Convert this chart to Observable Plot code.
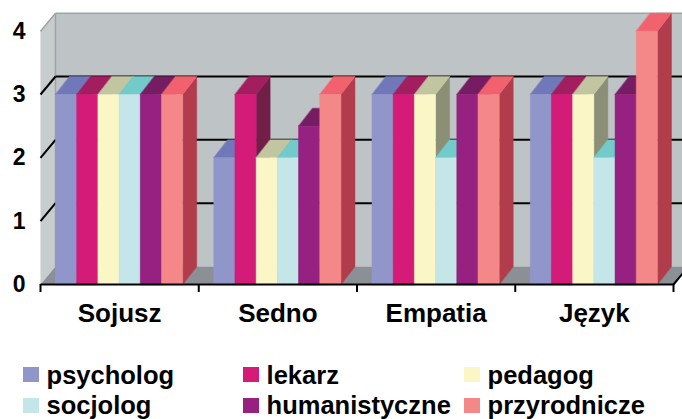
<!DOCTYPE html>
<html><head><meta charset="utf-8">
<script src="https://cdn.jsdelivr.net/npm/d3@7"></script>
<script src="https://cdn.jsdelivr.net/npm/@observablehq/plot@0.6"></script>
<style>
html,body{margin:0;padding:0;background:#fff;}
#chart{position:relative;width:682px;height:419px;overflow:hidden;font-family:"Liberation Sans",Arial,sans-serif;}
.lg-sw{position:absolute;width:16px;height:15px;}
.lg-tx{position:absolute;font-size:25.5px;font-weight:bold;line-height:30px;color:#000;white-space:nowrap;}
</style></head><body><div id="chart"></div>
<script>
// ---- data ----
const categories = ["Sojusz", "Sedno", "Empatia", "Język"];
const seriesNames = ["psycholog", "lekarz", "pedagog", "socjolog", "humanistyczne", "przyrodnicze"];
const psycholog     = [3, 2,   3, 3];
const lekarz        = [3, 3,   3, 3];
const pedagog       = [3, 2,   3, 3];
const socjolog      = [3, 2,   2, 2];
const humanistyczne = [3, 2.5, 3, 3];
const przyrodnicze  = [3, 3,   3, 4];
const yTicks = [0, 1, 2, 3, 4];

const seriesValues = [psycholog, lekarz, pedagog, socjolog, humanistyczne, przyrodnicze];
const frontColors = ["#9096ca", "#d41b78", "#faf6c6", "#c4e6e8", "#962180", "#f48888"];
const topColors   = ["#7078ba", "#a21e5e", "#c2c6a0", "#72caca", "#761c62", "#f2626e"];
const sideColors  = ["#5a5e90", "#711e49", "#8a8f76", "#5a9ea0", "#5e1650", "#b03c4c"];

// ---- geometry (in scale units) ----
const W = 682, H = 330;
const mL = 40, mR = 9, mT = 30.67, mB = 46;
const catPx = (W - mL - mR) / 4;
const unitPx = (H - mT - mB) / 4;
const barOffset = 15 / catPx, barWidth = 21.2 / catPx;
const depthX = 14 / catPx, depthY = 18 / unitPx, wallX = 15 / catPx;
const xEnd = 4.3;

const wallRows = [];
function poly(rows, id, pts, color) { pts.forEach(([x, y]) => rows.push({id, x, y, color})); }
poly(wallRows, "back", [[wallX, depthY], [wallX, 4 + depthY], [xEnd, 4 + depthY], [xEnd, depthY]], "#bec4c6");
poly(wallRows, "left", [[0, 0], [0, 4], [wallX, 4 + depthY], [wallX, depthY]], "#c7cccc");
poly(wallRows, "floor", [[0, 0], [4, 0], [4 + wallX, depthY], [wallX, depthY]], "#8a9096");

const gridLinks = [];
yTicks.filter(v => v > 0 && v < 4).forEach(v => {
  gridLinks.push({x1: wallX, y1: v + depthY, x2: xEnd, y2: v + depthY});
  gridLinks.push({x1: 0, y1: v, x2: wallX, y2: v + depthY});
});
const edgeLinks = [
  {x1: 0, y1: 4, x2: wallX, y2: 4 + depthY},
  {x1: wallX, y1: 4 + depthY, x2: xEnd, y2: 4 + depthY},
  {x1: wallX, y1: depthY, x2: wallX, y2: 4 + depthY}
];

const barRows = [];
categories.forEach((c, i) => {
  seriesValues.forEach((vals, j) => {
    const v = vals[i];
    const x0 = i + barOffset + j * barWidth, x1 = x0 + barWidth;
    const id = c + "-" + seriesNames[j];
    poly(barRows, id + "-side", [[x1, 0], [x1, v], [x1 + depthX, v + depthY], [x1 + depthX, depthY]], sideColors[j]);
    poly(barRows, id + "-top", [[x0, v], [x1, v], [x1 + depthX, v + depthY], [x0 + depthX, v + depthY]], topColors[j]);
    poly(barRows, id + "-front", [[x0, 0], [x0, v], [x1, v], [x1, 0]], frontColors[j]);
  });
});

const plot = Plot.plot({
  width: W, height: H,
  marginLeft: mL, marginRight: mR, marginTop: mT, marginBottom: mB,
  x: {domain: [0, 4]},
  y: {domain: [0, 4]},
  style: {fontFamily: '"Liberation Sans", Arial, sans-serif', background: "white", overflow: "hidden", color: "#000"},
  marks: [
    Plot.line(wallRows, {x: "x", y: "y", z: "id", fill: "color", stroke: "none", curve: "linear-closed"}),
    Plot.link(edgeLinks, {x1: "x1", y1: "y1", x2: "x2", y2: "y2", stroke: "#9ea3a6", strokeWidth: 1.5}),
    Plot.link(gridLinks, {x1: "x1", y1: "y1", x2: "x2", y2: "y2", stroke: "#000", strokeWidth: 2}),
    Plot.line(barRows, {x: "x", y: "y", z: "id", fill: "color", stroke: "color", strokeWidth: 0.5, curve: "linear-closed"}),
    Plot.link([{x1: 0, y1: 0, x2: 4, y2: 0}, {x1: 4, y1: 0, x2: 4 + wallX * 0.7, y2: depthY * 0.7}], {x1: "x1", y1: "y1", x2: "x2", y2: "y2", stroke: "#000", strokeWidth: 2}),
    Plot.ruleX(d3.range(categories.length + 1), {y1: 0, y2: -8 / unitPx, stroke: "#000", strokeWidth: 2}),
    Plot.axisY({ticks: yTicks, tickFormat: d => String(d), tickSize: 0, tickPadding: 15, label: null, fontSize: 23, fontWeight: "bold"}),
    Plot.axisX({ticks: categories.map((c, i) => i + 0.5), tickFormat: d => categories[Math.round(d - 0.5)], tickSize: 0, tickPadding: 19, label: null, fontSize: 26, fontWeight: "bold"})
  ]
});
const chart = document.getElementById("chart");
chart.appendChild(plot);

// ---- legend (HTML, below the SVG) ----
const legend = document.createElement("div");
legend.style.cssText = "position:relative;width:682px;height:89px;";
const colSw = [22.7, 243.3, 464], colTx = [46.6, 266.6, 487.6];
seriesNames.forEach((name, k) => {
  const col = k % 3, row = Math.floor(k / 3);
  const sw = document.createElement("div");
  sw.className = "lg-sw";
  sw.style.left = colSw[col] + "px";
  sw.style.top = (36.7 + row * 31.5) + "px";
  sw.style.background = frontColors[k];
  legend.appendChild(sw);
  const tx = document.createElement("div");
  tx.className = "lg-tx";
  tx.style.left = colTx[col] + "px";
  tx.style.top = (29.6 + row * 30.5) + "px";
  tx.textContent = name;
  legend.appendChild(tx);
});
chart.appendChild(legend);
</script></body></html>
